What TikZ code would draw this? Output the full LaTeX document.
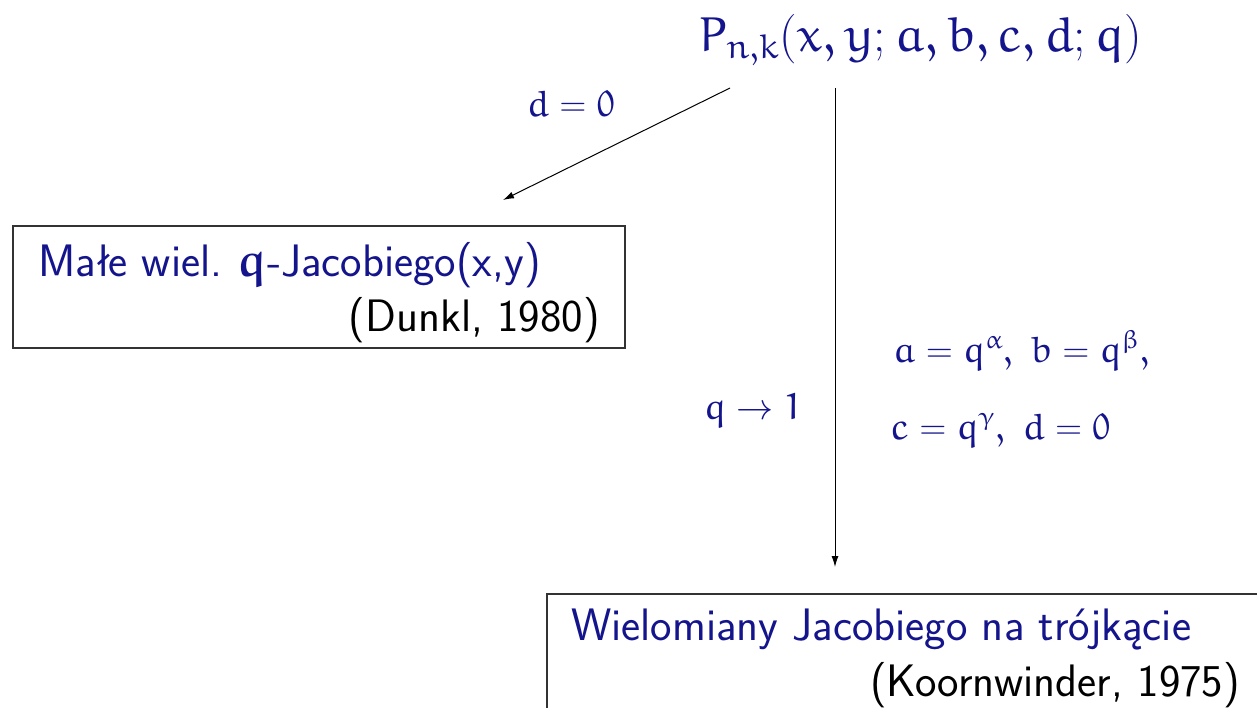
\RequirePackage{fix-cm}
\documentclass[tikz,border=0pt]{standalone}
\usepackage[no-math]{fontspec}
\DeclareSymbolFont{letters}{U}{eur}{m}{n}
\SetSymbolFont{letters}{bold}{U}{eur}{b}{n}
\DeclareSymbolFont{eulerdigits}{U}{eur}{m}{n}
\DeclareMathSymbol{0}{\mathalpha}{eulerdigits}{`0}
\DeclareMathSymbol{1}{\mathalpha}{eulerdigits}{`1}
\usetikzlibrary{arrows.meta}
\definecolor{myblue}{RGB}{20,20,140}
\tikzset{
  boxtext/.style={inner sep=0pt, font=\fontsize{45.5}{52}\selectfont\sffamily},
  bluetext/.style={inner sep=0pt, text=myblue},
  lbl/.style={inner sep=0pt, text=myblue, font=\fontsize{37}{44}\selectfont},
  frame/.style={draw=black!80, line width=1.3pt, inner sep=0pt},
  conn/.style={draw=black, line width=1pt, -{Latex[length=11pt,width=7pt]}}
}
\begin{document}
\begin{tikzpicture}[x=1pt,y=-1pt]
\useasboundingbox (0,0) rectangle (1257,708);
\clip (0,0) rectangle (1257,708);
% title
\node[bluetext, font=\fontsize{49.5}{58}\selectfont] (top) at (920,39) {$P_{n,k}(x,y;a,b,c,d;q)$};
% boxes
\node[frame, minimum width=612pt, minimum height=122pt] (box1) at (319,287) {};
\node[frame, minimum width=760pt, minimum height=220pt] (box2) at (927,704) {};
\node[boxtext, bluetext, anchor=base west] (t1) at (38,277) {Małe wiel.\ {\boldmath$q$}-Jacobiego(x,y)};
\node[boxtext, anchor=base east] (t2) at (600,331) {(Dunkl, 1980)};
\node[boxtext, bluetext, anchor=base west] (t3) at (571,640) {Wielomiany Jacobiego na trójkącie};
\node[boxtext, anchor=base east] (t4) at (1240,696) {(Koornwinder, 1975)};
% connector ends
\coordinate (s1) at (730,88);
\coordinate (e1) at (503,200);
\coordinate (s2) at (835,88);
\coordinate (e2) at (835,567);
\draw[conn] (s1) -- (e1);
\draw[conn] (s2) -- (e2);
% labels
\node[lbl] (l1) at (571,104) {$d=0$};
\node[lbl] (l2) at (753,410) {$q\to 1$};
\node[lbl, anchor=west] (l3) at (893,350) {$a=q^{\alpha},\ b=q^{\beta},$};
\node[lbl, anchor=west] (l4) at (891,430) {$c=q^{\gamma},\ d=0$};
\end{tikzpicture}
\end{document}
